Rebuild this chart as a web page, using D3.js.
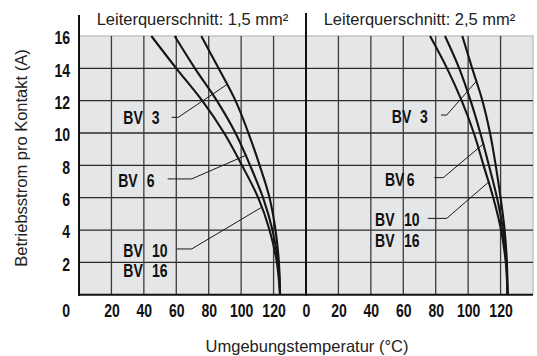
<!DOCTYPE html>
<html>
<head>
<meta charset="utf-8">
<script src="https://cdn.jsdelivr.net/npm/d3@7"></script>
<style>
  html, body { margin: 0; padding: 0; background: #fff; }
  svg { display: block; }
</style>
</head>
<body>
<svg id="chart" width="537" height="356"></svg>
<script>
// Operating current per contact (A) at which each curve is sampled
const currentLevels = [16, 14, 12, 10, 8, 6, 4, 2, 0];

// Ambient temperature (°C) reached at each current level, conductor 1.5 mm²
const bv3_15  = [75.4, 86.1, 96.5, 104.5, 111.4, 117.5, 121.2, 123.3, 124.0];
const bv6_15  = [59.0, 71.5, 85.0, 96.5, 105.5, 113.5, 119.3, 122.8, 124.0];
const bv10_15 = [44.6, 60.0, 76.0, 89.5, 100.5, 110.5, 117.5, 122.0, 124.0];

// Same for conductor 2.5 mm²
const bv3_25  = [96.4, 102.5, 108.8, 113.5, 117.0, 120.0, 122.5, 123.9, 124.3];
const bv6_25  = [85.7, 94.5, 101.5, 107.5, 112.8, 117.8, 121.5, 123.6, 124.3];
const bv10_25 = [76.5, 87.0, 96.0, 103.5, 109.5, 115.5, 120.3, 123.2, 124.3];

const panelTitles = ["Leiterquerschnitt: 1,5 mm²", "Leiterquerschnitt: 2,5 mm²"];
const xTicks = [0, 20, 40, 60, 80, 100, 120];
const yTicks = [2, 4, 6, 8, 10, 12, 14, 16];
const gridX = [20, 40, 60, 80, 100, 120];
const gridY = [2, 4, 6, 8, 10, 12, 14];
const xTitle = "Umgebungstemperatur (°C)";
const yTitle = "Betriebsstrom pro Kontakt (A)";

// Curve labels: "BV" start, number start (°C), vertical centre (A)
const labels15 = [
  { name: "BV", num: "3",  t: 27.3, tn: 44.8, a: 10.96 },
  { name: "BV", num: "6",  t: 24.2, tn: 41.8, a: 7.09 },
  { name: "BV", num: "10", t: 27.3, tn: 45.0, a: 2.76 },
  { name: "BV", num: "16", t: 27.3, tn: 45.0, a: 1.48 }
];
const labels25 = [
  { name: "BV", num: "3",  t: 52.9, tn: 70.3, a: 11.0 },
  { name: "BV", num: "6",  t: 48.7, tn: 62.1, a: 7.14 },
  { name: "BV", num: "10", t: 42.6, tn: 60.4, a: 4.66 },
  { name: "BV", num: "16", t: 42.6, tn: 60.4, a: 3.38 }
];
// Leader lines (°C, A): start, elbow, end on curve
const leaders15 = [
  [[57.2, 10.97], [61.2, 10.97], [91.7, 13.03]],
  [[54.7, 7.16],  [69.5, 7.16],  [103.4, 8.64]],
  [[60.3, 2.83],  [69.5, 2.83],  [112.2, 5.38]]
];
const leaders25 = [
  [[83.3, 11.11], [86.8, 11.11], [105.3, 13.23]],
  [[79.1, 7.24],  [84.7, 7.24],  [109.8, 9.36]],
  [[75.1, 4.72],  [86.8, 4.72],  [112.9, 6.99]]
];

const svg = d3.select("#chart");
// bold sans squeezed horizontally stands in for a condensed face
const numFont = "'Liberation Sans',Arial,Helvetica,sans-serif";
const squeeze = "scale(0.78,1)";
const numSize = 18;
const textFont = "'Liberation Sans',Arial,Helvetica,sans-serif";

const y = d3.scaleLinear().domain([0, 16]).range([294.7, 36]);
const panels = [
  { x: d3.scaleLinear().domain([0, 140]).range([79, 306]),
    series: [bv3_15, bv6_15, bv10_15], labels: labels15, leaders: leaders15, title: panelTitles[0] },
  { x: d3.scaleLinear().domain([0, 140]).range([306, 533]),
    series: [bv3_25, bv6_25, bv10_25], labels: labels25, leaders: leaders25, title: panelTitles[1] }
];
const x0 = panels[0].x(0), x1 = panels[1].x(140);

// plot background
svg.append("rect")
  .attr("x", x0).attr("y", y(16))
  .attr("width", x1 - x0).attr("height", y(0) - y(16))
  .attr("fill", "#e5e6e7");

// top and right border in light grey
svg.append("path")
  .attr("d", `M${x0},${y(16)}H${x1}V${y(0)}`)
  .attr("fill", "none").attr("stroke", "#c4c5c6").attr("stroke-width", 1.5);

// horizontal grid
svg.append("g").selectAll("line").data(gridY).join("line")
  .attr("x1", x0).attr("x2", x1)
  .attr("y1", d => y(d)).attr("y2", d => y(d))
  .attr("stroke", "#2a2a2a").attr("stroke-width", 1.3);

const line = d3.line().curve(d3.curveCatmullRom.alpha(0.5));

panels.forEach((p, pi) => {
  // vertical grid
  svg.append("g").selectAll("line").data(gridX).join("line")
    .attr("x1", d => p.x(d)).attr("x2", d => p.x(d))
    .attr("y1", y(0)).attr("y2", y(16))
    .attr("stroke", "#3a3a3a").attr("stroke-width", 1.3);

  // panel title
  svg.append("text")
    .attr("x", (p.x(0) + p.x(140)) / 2).attr("y", 25)
    .attr("text-anchor", "middle")
    .attr("font-family", textFont).attr("font-size", 16.5)
    .attr("fill", "#222")
    .text(p.title);

  // x axis tick labels
  const ax = svg.append("g")
    .attr("transform", `translate(0,${y(0)})`)
    .call(d3.axisBottom(p.x).tickValues(xTicks).tickSize(0).tickPadding(10).tickFormat(d3.format("d")));
  ax.select(".domain").remove();
  ax.selectAll("text")
    .attr("font-family", numFont).attr("font-weight", "bold").attr("font-size", numSize)
    .attr("fill", "#111").attr("transform", squeeze);
  if (pi === 0) {
    ax.selectAll(".tick").filter(d => d === 0).select("text").attr("x", -17);
  }

  // derating curves
  p.series.forEach(s => {
    const pts = s.map((t, i) => [p.x(t), y(currentLevels[i])]);
    svg.append("path")
      .attr("d", line(pts))
      .attr("fill", "none").attr("stroke", "#151515").attr("stroke-width", 2.1);
  });

  // leader lines
  p.leaders.forEach(l => {
    svg.append("polyline")
      .attr("points", l.map(d => `${p.x(d[0])},${y(d[1])}`).join(" "))
      .attr("fill", "none").attr("stroke", "#1a1a1a").attr("stroke-width", 1);
  });

  // curve labels
  p.labels.forEach(l => {
    [[l.t, l.name], [l.tn, l.num]].forEach(([t, s]) => {
      svg.append("g")
        .attr("transform", `translate(${p.x(t)},${y(l.a)}) ${squeeze}`)
        .append("text")
        .attr("font-family", numFont).attr("font-weight", "bold").attr("font-size", numSize)
        .attr("fill", "#111").attr("dy", "0.36em")
        .text(s);
    });
  });
});

// y axis tick labels
const ay = svg.append("g")
  .attr("transform", `translate(${x0 - 9},2)`)
  .call(d3.axisLeft(y).tickValues(yTicks).tickSize(0).tickPadding(0));
ay.select(".domain").remove();
ay.selectAll("text")
  .attr("font-family", numFont).attr("font-weight", "bold").attr("font-size", numSize)
  .attr("fill", "#111").attr("transform", squeeze);

// axis lines
svg.append("line")
  .attr("x1", x0).attr("x2", x0).attr("y1", 15).attr("y2", y(0) + 1)
  .attr("stroke", "#111").attr("stroke-width", 2);
svg.append("line")
  .attr("x1", panels[1].x(0)).attr("x2", panels[1].x(0)).attr("y1", 13).attr("y2", y(0) + 1)
  .attr("stroke", "#111").attr("stroke-width", 2);
svg.append("line")
  .attr("x1", x0 - 1).attr("x2", x1).attr("y1", y(0)).attr("y2", y(0))
  .attr("stroke", "#111").attr("stroke-width", 2);

// axis titles
svg.append("text")
  .attr("x", 307).attr("y", 352)
  .attr("text-anchor", "middle")
  .attr("font-family", textFont).attr("font-size", 16.5).attr("fill", "#222")
  .text(xTitle);
svg.append("text")
  .attr("transform", "translate(27,158) rotate(-90)")
  .attr("text-anchor", "middle")
  .attr("font-family", textFont).attr("font-size", 16.5).attr("fill", "#222")
  .text(yTitle);
</script>
</body>
</html>
